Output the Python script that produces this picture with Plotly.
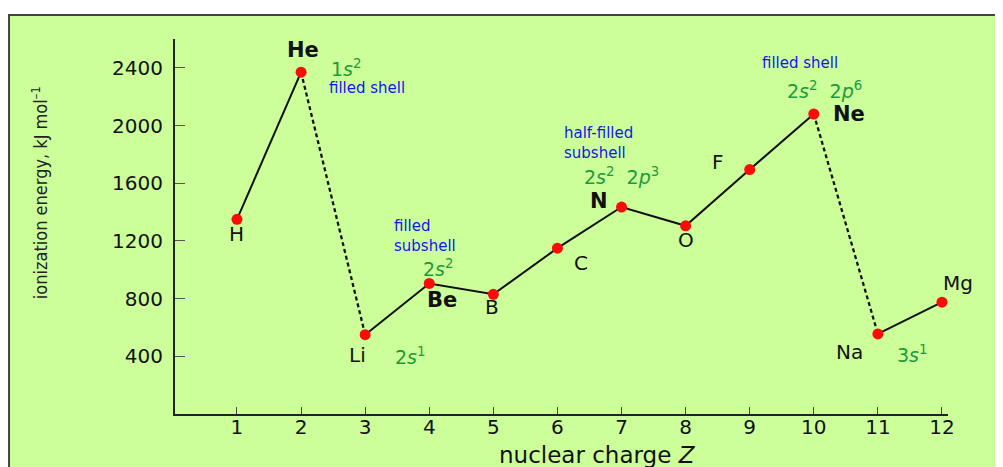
import plotly.graph_objects as go

# ---- data ----
Z = [1, 2, 3, 4, 5, 6, 7, 8, 9, 10, 11, 12]
elements = ["H", "He", "Li", "Be", "B", "C", "N", "O", "F", "Ne", "Na", "Mg"]
ie = [1350, 2370, 550, 905, 830, 1150, 1435, 1305, 1695, 2080, 555, 775]
bold_elements = ["He", "Be", "N", "Ne"]
y_ticks = [400, 800, 1200, 1600, 2000, 2400]
x_ticks = Z

# segments: (start index, end index, dashed?)
segments = [(0, 1, False), (1, 2, True), (2, 9, False), (9, 10, True), (10, 11, False)]

# element label offsets (px) relative to point
elem_offsets = {
    "H": (0, -15), "He": (2, 22), "Li": (-8, -20), "Be": (13, -17), "B": (-1, -13),
    "C": (24, -15), "N": (-23, 6), "O": (0, -14), "F": (-32, 8), "Ne": (35, 0),
    "Na": (-28, -18), "Mg": (16, 19),
}

# electron configuration labels (anchor element, text, dx, dy)
configs = [
    ("He", "1<i>s</i><sup>2</sup>", 45, 4),
    ("Li", "2<i>s</i><sup>1</sup>", 45, -21),
    ("Be", "2<i>s</i><sup>2</sup>", 9, 15),
    ("N", "2<i>s</i><sup>2</sup>\u00a0\u00a02<i>p</i><sup>3</sup>", 0, 31),
    ("Ne", "2<i>s</i><sup>2</sup>\u00a0\u00a02<i>p</i><sup>6</sup>", 11, 24),
    ("Na", "3<i>s</i><sup>1</sup>", 34, -20),
]

# descriptive notes (anchor element, text, dx(left edge), dy(center))
notes = [
    ("He", "filled shell", 26, -16),
    ("Be", "filled<br>subshell", -37, 47),
    ("N", "half-filled<br>subshell", -60, 64),
    ("Ne", "filled shell", -54, 51),
]

GREEN = "#1c9a3c"
BLUE = "#1515f0"
FONT = "DejaVu Sans, Verdana, sans-serif"

fig = go.Figure()

for i0, i1, dashed in segments:
    fig.add_trace(go.Scatter(
        x=Z[i0:i1 + 1], y=ie[i0:i1 + 1], mode="lines",
        line=dict(color="#111111", width=2.3 if dashed else 2, dash="4px,3px" if dashed else "solid"),
        hoverinfo="skip", showlegend=False,
    ))

fig.add_trace(go.Scatter(
    x=Z, y=ie, mode="markers",
    marker=dict(color="#ff0a0a", size=11, line=dict(width=0)),
    showlegend=False,
))

annotations = []
idx = {e: i for i, e in enumerate(elements)}
for e in elements:
    i = idx[e]
    dx, dy = elem_offsets[e]
    b = e in bold_elements
    annotations.append(dict(
        x=Z[i], y=ie[i], xref="x", yref="y", text=f"<b>{e}</b>" if b else e,
        showarrow=False, xshift=dx, yshift=dy, xanchor="center", yanchor="middle",
        font=dict(family=FONT, size=21 if b else 20, color="#111111"),
    ))
for e, t, dx, dy in configs:
    i = idx[e]
    annotations.append(dict(
        x=Z[i], y=ie[i], xref="x", yref="y", text=t, showarrow=False,
        xshift=dx, yshift=dy, xanchor="center", yanchor="middle",
        font=dict(family=FONT, size=19, color=GREEN),
    ))
for e, t, dx, dy in notes:
    i = idx[e]
    annotations.append(dict(
        x=Z[i], y=ie[i], xref="x", yref="y", text=t, showarrow=False,
        xshift=dx, yshift=dy, xanchor="left", yanchor="middle", align="left",
        font=dict(family=FONT, size=15, color=BLUE),
    ))

# axis titles
annotations.append(dict(
    x=-0.1746, y=0.589, xref="paper", yref="paper", textangle=-90,
    text="ionization energy, kJ mol<sup>–1</sup>", showarrow=False,
    xanchor="center", yanchor="middle",
    font=dict(family="Liberation Sans Narrow, DejaVu Sans Condensed, sans-serif", size=18, color="#222222"),
))
annotations.append(dict(
    x=0.547, y=-0.109, xref="paper", yref="paper",
    text="nuclear charge <i>Z</i>", showarrow=False,
    xanchor="center", yanchor="middle",
    font=dict(family=FONT, size=23, color="#111111"),
))

fig.update_layout(
    width=1003, height=467,
    margin=dict(l=167, r=63, t=31, b=61, autoexpand=False),
    paper_bgcolor="white",
    plot_bgcolor="rgba(0,0,0,0)",
    showlegend=False,
    annotations=annotations,
    shapes=[dict(
        type="rect", xref="paper", yref="paper", layer="below",
        x0=-0.2147, x1=1.2, y0=-0.3, y1=1.064,
        fillcolor="#ccff99", line=dict(color="#444444", width=2),
    )],
)

fig.update_xaxes(
    range=[0.033, 12.094], tickmode="array", tickvals=x_ticks,
    ticktext=[str(v) for v in x_ticks],
    showline=True, linecolor="#222222", linewidth=2,
    ticks="inside", ticklen=7, tickwidth=1, tickcolor="#444444",
    showgrid=False, zeroline=False,
    tickfont=dict(family=FONT, size=20, color="#111111"),
    ticklabelstandoff=-6,
)
fig.update_yaxes(
    range=[0, 2600], tickmode="array", tickvals=y_ticks,
    ticktext=[str(v) for v in y_ticks],
    showline=True, linecolor="#222222", linewidth=2,
    ticks="inside", ticklen=10, tickwidth=1, tickcolor="#555555",
    showgrid=False, zeroline=False,
    tickfont=dict(family=FONT, size=20, color="#111111"),
    ticklabelstandoff=6,
)

fig.write_html("out.html")
